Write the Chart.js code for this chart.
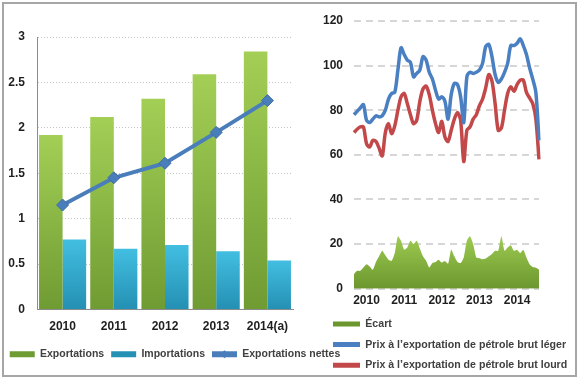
<!DOCTYPE html>
<html lang="fr">
<head>
<meta charset="utf-8">
<script src="https://cdn.jsdelivr.net/npm/chart.js@4.4.0/dist/chart.umd.min.js"></script>
<style>
  html, body { margin: 0; padding: 0; background: #fff; }
  #cadre { position: absolute; left: 2px; top: 2px; width: 575px; height: 375px; box-sizing: border-box; border: 2px solid #a6a6a6; }
  #gauche { position: absolute; left: 0; top: 0; width: 350px; height: 381px; }
  #droite { position: absolute; left: 300px; top: 0; width: 276px; height: 381px; }
</style>
</head>
<body>
<div id="cadre"></div>
<div id="gauche"><canvas id="graphAnnuel"></canvas></div>
<div id="droite"><canvas id="graphPrix"></canvas></div>
<script>
// graphique de gauche (annuel)
const annees = ['2010', '2011', '2012', '2013', '2014(a)'];
const exportations = [1.92, 2.12, 2.32, 2.59, 2.84];
const importations = [0.77, 0.67, 0.71, 0.64, 0.54];
const exportationsNettes = [1.15, 1.45, 1.61, 1.95, 2.30];
const axeAnnuelMax = 3;
const axeAnnuelPas = 0.5;

// graphique de droite (mensuel, 2010 a 2014)
const anneesMois = ['2010', '2011', '2012', '2013', '2014'];
const mois = [];
anneesMois.forEach(a => {
  for (let m = 1; m <= 12; m++) mois.push(a + '-' + String(m).padStart(2, '0'));
});
const prixLeger = [78, 79.5, 81, 82.5, 75.5, 74.5, 76, 77.5, 77, 77.5,
  80, 85, 87.5, 88, 98, 108, 105, 102.5, 101.5, 95,
  96.5, 98, 104, 102.5, 97, 94, 89, 85, 86, 84,
  76, 87, 92, 91.5, 86, 74.5, 95, 97, 96.5, 97,
  98, 101, 108.5, 109.5, 104, 96, 92.5, 94, 97, 101,
  109, 109, 110, 112, 109, 105, 99, 94, 88, 66.5];
const prixLourd = [70, 71.5, 72.5, 72.5, 65, 63.5, 66.5, 66, 63, 59.5,
  70, 74, 69.5, 73, 80, 86, 87.5, 83, 78, 74,
  75.5, 84, 89.5, 90.8, 87, 80, 74, 70, 75, 68,
  66, 71, 76, 79, 75.5, 57, 71, 72.5, 76, 78,
  82, 85, 90, 96, 93, 83, 71, 72, 80, 87.5,
  90.5, 88.5, 91.5, 93.5, 93.5, 88, 85.5, 83, 76, 58];
const ecart = [6.5, 8, 8, 9.5, 11, 10, 8.5, 12, 14.5, 17,
  15, 13, 12.5, 16, 23.5, 21.5, 17.5, 18.5, 21.5, 20,
  21.5, 18, 14.5, 12.5, 9.5, 11.5, 12, 13, 11.7, 12.4,
  11.2, 17.5, 14.5, 12, 11.5, 14, 21.5, 23.5, 20, 14,
  13.7, 13.2, 13.5, 14.5, 15.5, 17, 17, 23.5, 17, 18.5,
  19.5, 17, 17.5, 16, 17.5, 14, 11, 9.7, 9.4, 8.6];
const axePrixMax = 120;
const axePrixPas = 20;

const police = "'Liberation Sans', Arial, sans-serif";
const texte = '#1f1f1f';

function degradeBarre(haut, bas) {
  return (context) => {
    const chart = context.chart;
    const {ctx, chartArea, scales} = chart;
    if (!chartArea || context.type !== 'data') return haut;
    const y0 = scales.y.getPixelForValue(context.raw);
    const g = ctx.createLinearGradient(0, y0, 0, chartArea.bottom);
    g.addColorStop(0, haut);
    g.addColorStop(1, bas);
    return g;
  };
}

// petit losange sur la ligne de la legende "Exportations nettes"
const losangeLegende = {
  id: 'losangeLegende',
  afterDraw(chart) {
    const leg = chart.legend;
    if (!leg || !leg.legendHitBoxes) return;
    const c = chart.ctx;
    leg.legendItems.forEach((item, i) => {
      if (item.datasetIndex !== 2) return;
      const b = leg.legendHitBoxes[i];
      const x = b.left + leg.options.labels.boxWidth / 2;
      const y = b.top + b.height / 2;
      c.save();
      c.fillStyle = '#4a7ebb';
      c.beginPath();
      c.moveTo(x, y - 4); c.lineTo(x + 4, y); c.lineTo(x, y + 4); c.lineTo(x - 4, y);
      c.closePath();
      c.fill();
      c.restore();
    });
  }
};

function legendeSansBord(chart) {
  const items = Chart.defaults.plugins.legend.labels.generateLabels(chart);
  items.forEach(it => { it.lineWidth = 0; });
  return items;
}

// axe vide a droite : garde la marge du graphique sans retrecir la legende
function margeDroite(largeur) {
  return {
    type: 'linear',
    position: 'right',
    grid: { display: false, drawTicks: false },
    border: { display: false },
    ticks: { display: false },
    afterFit: (s) => { s.width = largeur; }
  };
}

new Chart(document.getElementById('graphAnnuel'), {
  type: 'bar',
  data: {
    labels: annees,
    datasets: [{
      label: 'Exportations',
      data: exportations,
      backgroundColor: degradeBarre('#a3cf56', '#6f9b33'),
      order: 2
    }, {
      label: 'Importations',
      data: importations,
      backgroundColor: degradeBarre('#42bee1', '#2490b3'),
      order: 2
    }, {
      type: 'line',
      label: 'Exportations nettes',
      data: exportationsNettes,
      borderColor: '#4a7ebb',
      backgroundColor: '#4a7ebb',
      borderWidth: 4,
      pointStyle: 'rectRot',
      pointRadius: 6,
      pointBackgroundColor: '#4a7ebb',
      pointBorderColor: '#3d6ea8',
      pointBorderWidth: 1,
      order: 1
    }]
  },
  options: {
    responsive: true,
    maintainAspectRatio: false,
    animation: false,
    layout: { padding: { left: 0, right: 0, top: 37, bottom: 11.5 } },
    datasets: { bar: { categoryPercentage: 0.92, barPercentage: 1 } },
    plugins: {
      tooltip: { enabled: false },
      legend: {
        position: 'bottom',
        labels: {
          boxWidth: 25,
          boxHeight: 6,
          padding: 7,
          color: '#404040',
          font: { family: police, size: 10.5, weight: 'bold' },
          generateLabels: legendeSansBord,
          sort: (a, b) => a.datasetIndex - b.datasetIndex
        }
      }
    },
    scales: {
      x: {
        grid: { display: false, drawTicks: false },
        border: { color: '#8c8c8c' },
        ticks: { color: texte, padding: 10, font: { family: police, size: 12, weight: 'bold' } },
        afterFit: (s) => { s.height = 32.5; }
      },
      y: {
        min: 0,
        max: axeAnnuelMax,
        ticks: {
          stepSize: axeAnnuelPas,
          color: texte,
          padding: 12,
          font: { family: police, size: 12, weight: 'bold' },
          callback: (v) => String(Math.round(v * 10) / 10)
        },
        grid: { color: '#c4c4c4', drawTicks: false },
        border: { color: '#8c8c8c', dash: [1, 2] },
        afterFit: (s) => { s.width = 37; }
      },
      marge: margeDroite(57)
    }
  },
  plugins: [losangeLegende]
});

new Chart(document.getElementById('graphPrix'), {
  type: 'line',
  data: {
    labels: mois,
    datasets: [{
      label: 'Écart',
      data: ecart,
      fill: 'origin',
      borderWidth: 0,
      borderColor: 'rgba(0,0,0,0)',
      pointRadius: 0,
      tension: 0.2,
      backgroundColor: (context) => {
        const {ctx, chartArea, scales} = context.chart;
        if (!chartArea) return '#8fbf45';
        const g = ctx.createLinearGradient(0, scales.y.getPixelForValue(25), 0, chartArea.bottom);
        g.addColorStop(0, '#a0cd52');
        g.addColorStop(1, '#6c972f');
        return g;
      }
    }, {
      label: 'Prix à l’exportation de pétrole brut léger',
      data: prixLeger,
      borderColor: '#4a7fc1',
      backgroundColor: '#4a7fc1',
      borderWidth: 3.5,
      pointRadius: 0,
      tension: 0.3
    }, {
      label: 'Prix à l’exportation de pétrole brut lourd',
      data: prixLourd,
      borderColor: '#c2484a',
      backgroundColor: '#c2484a',
      borderWidth: 3.5,
      pointRadius: 0,
      tension: 0.3
    }]
  },
  options: {
    responsive: true,
    maintainAspectRatio: false,
    animation: false,
    layout: { padding: { left: 23, right: 0, top: 21, bottom: 0.5 } },
    plugins: {
      tooltip: { enabled: false },
      legend: {
        position: 'bottom',
        align: 'start',
        labels: {
          boxWidth: 27,
          boxHeight: 5,
          padding: 10,
          color: '#404040',
          font: { family: police, size: 10.6, weight: 'bold' },
          generateLabels: legendeSansBord
        }
      }
    },
    scales: {
      x: {
        grid: { display: false, drawTicks: false },
        border: { display: false },
        ticks: {
          autoSkip: false,
          maxRotation: 0,
          minRotation: 0,
          padding: 5,
          color: texte,
          font: { family: police, size: 12, weight: 'bold' },
          callback: (v, i) => mois[i].endsWith('-05') ? mois[i].slice(0, 4) : ''
        },
        afterFit: (s) => { s.height = 20; }
      },
      y: {
        min: 0,
        max: axePrixMax,
        ticks: { stepSize: axePrixPas, color: texte, padding: 11, font: { family: police, size: 12, weight: 'bold' } },
        grid: { color: '#d6d6d6', lineWidth: 2, drawTicks: false },
        border: { display: false, dash: [7, 5] },
        afterFit: (s) => { s.width = 31; }
      },
      marge: margeDroite(37)
    }
  }
});
</script>
</body>
</html>
